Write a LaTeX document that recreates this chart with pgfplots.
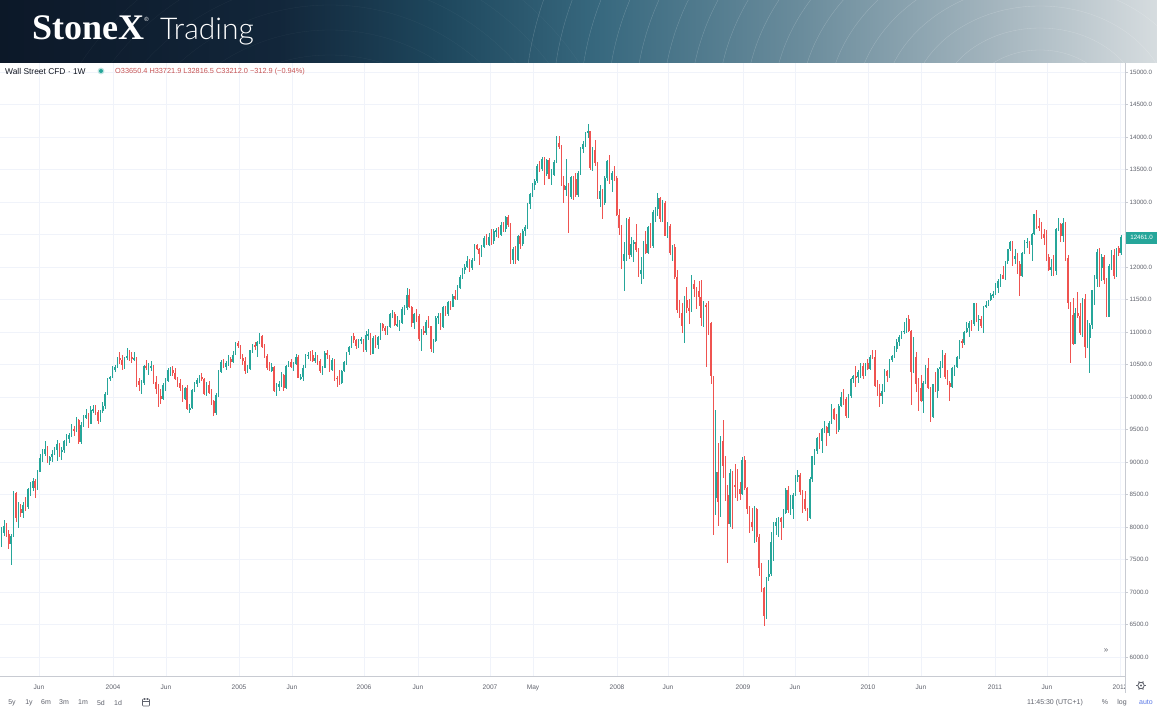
\documentclass[border=0pt]{standalone}
\usepackage{fontspec}
\setmainfont{Liberation Sans}
\newfontfamily\serifb{Liberation Serif}
\IfFontExistsTF{Lato Light}{\newfontfamily\latol{Lato Light}}{\newfontfamily\latol{Lato}}
\usepackage{pgfplots}
\usepackage{pgfplotstable}
\usetikzlibrary{calc}
\pgfplotsset{compat=1.18}
\definecolor{upc}{HTML}{26A69A}
\definecolor{dnc}{HTML}{EF5350}
\definecolor{gridc}{RGB}{240,243,250}
\definecolor{axc}{RGB}{200,203,210}
\definecolor{txc}{RGB}{95,98,108}
\definecolor{legr}{RGB}{200,85,85}
\definecolor{b0}{HTML}{0C1828}
\definecolor{b1}{HTML}{12263A}
\definecolor{b2}{HTML}{1E475D}
\definecolor{b3}{HTML}{38697F}
\definecolor{b4}{HTML}{6A8C9C}
\definecolor{b5}{HTML}{A4B5BE}
\definecolor{b6}{HTML}{D6DCDF}
\pgfdeclarehorizontalshading{banner}{100bp}{color(0bp)=(b0); color(25bp)=(b0); color(37bp)=(b1); color(44bp)=(b2); color(51bp)=(b3); color(59.6bp)=(b4); color(68bp)=(b5); color(75bp)=(b6); color(100bp)=(b6)}
\begin{document}
\pgfplotstableread{
o h l c
7850 7995 7700 7909
7909 8110 7860 8018
8018 8060 7840 7891
7891 7960 7660 7740
7740 7900 7416 7859
7859 8560 7850 8522
8522 8540 8080 8145
8145 8390 7990 8277
8277 8360 8150 8221
8221 8390 8140 8337
8337 8460 8250 8306
8306 8600 8270 8583
8583 8700 8480 8604
8604 8760 8560 8713
8713 8740 8450 8601
8601 8880 8570 8850
8850 9130 8840 9062
9062 9200 9000 9117
9117 9330 9090 9200
9200 9240 8980 9011
9011 9100 8960 9070
9070 9190 9000 9119
9119 9230 9110 9188
9188 9340 9010 9284
9284 9300 9080 9153
9153 9230 9030 9191
9191 9340 9140 9321
9321 9430 9250 9348
9348 9440 9300 9415
9415 9590 9380 9503
9503 9550 9400 9471
9471 9690 9460 9644
9644 9660 9280 9313
9313 9620 9270 9572
9572 9720 9540 9674
9674 9810 9660 9721
9721 9760 9530 9582
9582 9860 9580 9801
9801 9880 9760 9809
9809 9870 9730 9768
9768 9800 9580 9629
9629 9800 9620 9782
9782 9930 9750 9862
9862 10070 9820 10042
10042 10300 10030 10278
10278 10330 10250 10305
10305 10470 10290 10409
10409 10500 10380 10458
10458 10620 10440 10600
10600 10700 10510 10568
10568 10650 10420 10488
10488 10620 10430 10593
10593 10753 10570 10628
10628 10720 10560 10620
10620 10700 10530 10584
10584 10690 10550 10596
10596 10610 10160 10240
10240 10300 10100 10186
10186 10260 10048 10212
10212 10500 10190 10470
10470 10570 10420 10443
10443 10530 10340 10452
10452 10560 10400 10472
10472 10500 10200 10226
10226 10320 10050 10118
10118 10200 9852 10013
10013 10120 9900 9967
9967 10220 9960 10188
10188 10300 10100 10242
10242 10440 10230 10410
10410 10460 10330 10416
10416 10480 10330 10371
10371 10450 10260 10283
10283 10310 10160 10213
10213 10270 10100 10140
10140 10180 9930 9962
9962 10160 9950 10140
10140 10180 9800 9815
9815 9900 9760 9825
9825 10130 9810 10110
10110 10230 10080 10195
10195 10300 10160 10260
10260 10340 10220 10314
10314 10370 10240 10284
10284 10300 10030 10047
10047 10230 10020 10192
10192 10250 10040 10055
10055 10120 9880 9933
9933 9960 9708 9758
9758 10060 9730 10027
10027 10420 10000 10387
10387 10570 10370 10539
10539 10580 10440 10456
10456 10560 10420 10522
10522 10640 10480 10592
10592 10620 10440 10543
10543 10710 10530 10650
10650 10850 10640 10827
10827 10868 10760 10783
10783 10800 10580 10603
10603 10660 10500 10558
10558 10620 10360 10393
10393 10500 10370 10427
10427 10730 10410 10716
10716 10820 10680 10796
10796 10840 10720 10785
10785 10860 10610 10841
10841 10984 10820 10940
10940 10960 10760 10774
10774 10820 10600 10629
10629 10660 10420 10442
10442 10540 10400 10404
10404 10520 10380 10461
10461 10480 10070 10088
10088 10220 10010 10157
10157 10250 10100 10193
10193 10390 10150 10345
10345 10360 10100 10140
10140 10490 10130 10471
10471 10560 10460 10542
10542 10590 10440 10460
10460 10540 10400 10512
10512 10660 10500 10623
10623 10640 10290 10297
10297 10350 10260 10303
10303 10490 10240 10449
10449 10660 10440 10640
10640 10700 10580 10651
10651 10710 10560 10641
10641 10720 10540 10559
10559 10690 10530 10600
10600 10640 10500 10559
10559 10580 10370 10397
10397 10480 10340 10447
10447 10710 10440 10679
10679 10720 10590 10641
10641 10650 10380 10419
10419 10600 10400 10569
10569 10580 10250 10292
10292 10330 10156 10287
10287 10420 10190 10215
10215 10420 10200 10402
10402 10560 10380 10531
10531 10700 10500 10686
10686 10790 10640 10766
10766 10940 10750 10931
10931 10990 10830 10878
10878 10900 10740 10778
10778 10900 10760 10875
10875 10920 10810 10883
10883 10900 10700 10718
10718 11010 10700 10959
10959 11050 10880 10960
10960 10990 10650 10667
10667 10940 10660 10907
10907 10950 10750 10794
10794 10940 10740 10920
10920 11140 10880 11116
11116 11140 11020 11062
11062 11100 10960 11021
11021 11100 10950 11076
11076 11300 11060 11280
11280 11340 11220 11280
11280 11310 11090 11109
11109 11240 11080 11120
11120 11190 11010 11137
11137 11380 11120 11347
11347 11420 11260 11367
11367 11670 11340 11577
11577 11660 11370 11380
11380 11400 11080 11144
11144 11300 11050 11278
11278 11360 11160 11248
11248 11280 10860 10892
10892 11050 10706 11014
11014 11100 10950 10990
10990 11190 10960 11150
11150 11250 11060 11091
11091 11100 10700 10739
10739 10900 10683 10869
10869 11240 10850 11219
11219 11290 11120 11240
11240 11290 11030 11077
11077 11400 11060 11381
11381 11400 11240 11284
11284 11480 11250 11464
11464 11480 11340 11392
11392 11580 11380 11560
11560 11640 11500 11508
11508 11730 11500 11679
11679 11880 11660 11850
11850 11990 11820 11960
11960 12050 11900 12002
12002 12170 11980 12090
12090 12130 11930 11986
11986 12140 11960 12108
12108 12360 12090 12342
12342 12360 12260 12280
12280 12290 12030 12194
12194 12340 12150 12307
12307 12480 12290 12445
12445 12510 12340 12343
12343 12520 12330 12463
12463 12580 12340 12398
12398 12580 12350 12556
12556 12600 12460 12565
12565 12620 12440 12487
12487 12700 12480 12653
12653 12700 12540 12580
12580 12780 12540 12768
12768 12795 12620 12647
12647 12680 12050 12114
12114 12310 12040 12276
12276 12330 12050 12110
12110 12500 12100 12481
12481 12530 12280 12354
12354 12580 12320 12560
12560 12640 12480 12612
12612 12980 12590 12962
12962 13140 12900 13120
13120 13290 13080 13264
13264 13350 13190 13326
13326 13580 13300 13556
13556 13630 13460 13507
13507 13690 13480 13668
13668 13690 13260 13424
13424 13660 13400 13639
13639 13680 13350 13360
13360 13510 13260 13409
13409 13640 13400 13611
13611 14022 13600 13907
13907 14021 13820 13851
13851 13880 13240 13265
13265 13400 12980 13182
13182 13660 13100 13240
13240 13300 12518 13079
13079 13400 13050 13379
13379 13400 13030 13358
13358 13450 13080 13114
13114 13480 13070 13443
13443 13850 13420 13821
13821 13940 13750 13896
13896 14080 13850 14066
14066 14198 13980 14093
14093 14100 13500 13523
13523 13850 13470 13807
13807 13950 13550 13596
13596 13620 13040 13043
13043 13260 12930 13177
13177 13200 12743 12981
12981 13400 12950 13372
13372 13650 13320 13626
13626 13727 13280 13340
13340 13480 13150 13451
13451 13560 13320 13366
13366 13400 12780 12800
12800 12900 12500 12606
12606 12650 11970 12099
12099 12380 11635 12207
12207 12760 12100 12743
12743 12770 12120 12182
12182 12460 12150 12348
12348 12420 12070 12381
12381 12660 12230 12266
12266 12300 11850 11894
11894 12150 11731 11951
11951 12400 11820 12361
12361 12550 12200 12216
12216 12630 12200 12609
12609 12680 12300 12325
12325 12870 12300 12849
12849 12930 12700 12891
12891 13136 12780 13058
13058 13080 12700 12746
12746 13030 12700 12986
12986 13010 12470 12480
12480 12690 12440 12638
12638 12660 12180 12210
12210 12340 12100 12307
12307 12350 11820 11842
11842 11950 11300 11346
11346 11500 11210 11289
11289 11450 10990 11100
11100 11550 10827 11496
11496 11700 11300 11370
11370 11510 11130 11326
11326 11870 11310 11734
11734 11800 11540 11659
11659 11700 11360 11628
11628 11790 11400 11544
11544 11800 11100 11220
11220 11480 11080 11421
11421 11440 10460 11388
11388 11480 10950 11143
11143 11150 10200 10325
10325 10330 7882 8451
8451 9800 8190 8852
8852 9300 8020 8378
8378 9400 8150 9325
9325 9650 8750 8943
8943 9100 8400 8497
8497 8640 7449 8046
8046 8900 8000 8829
8829 8860 7970 8635
8635 8970 8450 8629
8629 8900 8400 8579
8579 8700 8410 8515
8515 9080 8500 9034
9034 9090 8570 8599
8599 8620 8200 8281
8281 8330 7910 8077
8077 8300 7940 8000
8000 8320 7750 8280
8280 8300 7770 7850
7850 7900 7250 7365
7365 7450 7000 7062
7062 7070 6470 6627
6627 7230 6580 7224
7224 7490 7170 7279
7279 7930 7250 7776
7776 8080 7470 8018
8018 8140 7870 8083
8083 8160 7850 8131
8131 8160 7800 8076
8076 8270 7980 8212
8212 8600 8200 8575
8575 8630 8220 8268
8268 8500 8180 8277
8277 8520 8120 8500
8500 8800 8470 8763
8763 8880 8700 8799
8799 8830 8490 8539
8539 8570 8220 8438
8438 8560 8240 8280
8280 8300 8087 8146
8146 8770 8130 8743
8743 9100 8700 9093
9093 9200 8960 9171
9171 9380 9120 9370
9370 9440 9200 9321
9321 9520 9140 9505
9505 9630 9450 9544
9544 9560 9250 9441
9441 9630 9400 9605
9605 9900 9590 9820
9820 9830 9640 9665
9665 9740 9430 9487
9487 9890 9460 9865
9865 10070 9850 9995
9995 10120 9880 9972
9972 10000 9680 9713
9713 10050 9680 10023
10023 10300 9980 10270
10270 10340 10210 10318
10318 10470 10150 10309
10309 10420 10210 10388
10388 10520 10300 10471
10471 10520 10280 10329
10329 10530 10320 10520
10520 10580 10410 10428
10428 10640 10410 10618
10618 10730 10580 10610
10610 10730 10160 10172
10172 10260 10020 10067
10067 10200 9840 10012
10012 10200 9900 10099
10099 10430 10080 10402
10402 10420 10230 10325
10325 10580 10300 10566
10566 10650 10540 10625
10625 10790 10600 10742
10742 10900 10700 10850
10850 10950 10790 10927
10927 11010 10900 10997
10997 11150 10970 11019
11019 11210 10980 11204
11204 11258 11000 11009
11009 11030 9870 10380
10380 10920 10370 10620
10620 10700 10070 10193
10193 10300 9780 10137
10137 10340 9920 9932
9932 10250 9760 10212
10212 10490 10200 10450
10450 10600 10130 10144
10144 10150 9614 9686
9686 10200 9680 10198
10198 10380 10080 10097
10097 10440 9990 10424
10424 10560 10300 10466
10466 10720 10450 10653
10653 10680 10280 10303
10303 10420 10190 10213
10213 10250 9940 10150
10150 10460 10140 10448
10448 10500 10330 10462
10462 10630 10440 10608
10608 10880 10590 10860
10860 10900 10750 10829
10829 11010 10800 11006
11006 11150 10980 11062
11062 11170 10930 11133
11133 11180 11010 11118
11118 11450 11100 11444
11444 11450 11150 11192
11192 11260 11020 11203
11203 11240 11060 11092
11092 11400 10980 11382
11382 11480 11370 11410
11410 11500 11400 11491
11491 11600 11480 11573
11573 11630 11520 11578
11578 11750 11570 11675
11675 11810 11600 11787
11787 11900 11690 11871
11871 12020 11820 11823
11823 12100 11800 12092
12092 12280 12050 12273
12273 12400 12240 12391
12391 12400 12010 12130
12130 12280 12050 12169
12169 12220 11900 12044
12044 12100 11555 11859
11859 12230 11850 12221
12221 12420 12200 12376
12376 12450 12290 12380
12380 12400 12200 12342
12342 12520 12090 12506
12506 12820 12490 12811
12811 12876 12580 12638
12638 12760 12550 12596
12596 12700 12430 12512
12512 12580 12340 12441
12441 12570 12100 12151
12151 12200 11940 11952
11952 12130 11860 12004
12004 12190 11860 11934
11934 12600 11870 12582
12582 12750 12560 12657
12657 12680 12380 12480
12480 12750 12390 12681
12681 12700 12090 12143
12143 12190 11350 11445
11445 11460 10520 11269
11269 11530 10800 10818
10818 11370 10820 11285
11285 11620 11210 11240
11240 11450 10950 10992
10992 11520 10930 11509
11509 11580 10600 10771
10771 11190 10750 10913
10913 11140 10362 11103
11103 11650 11050 11644
11644 11870 11410 11809
11809 12280 11700 12231
12231 12290 11700 11983
11983 12200 11780 12153
12153 12190 11740 11796
11796 11830 11230 11231
11231 12050 11230 12019
12019 12260 11950 12184
12184 12270 11820 11867
11867 12300 11840 12294
12294 12330 12170 12217
12217 12500 12190 12461
}\candles
\begin{tikzpicture}[x=1bp,y=1bp]
\path[use as bounding box] (0,0) rectangle (1157,-720);
\fill[white] (0,0) rectangle (1157,-720);
% banner
\shade[shading=banner] (0,0) rectangle (1157,-62.5);
\begin{scope}
\clip (0,0) rectangle (1157,-62.5);
\foreach \r in {60,82,...,420} \draw[white, opacity=0.22, line width=0.35bp] (1040,-110) ellipse [x radius={1.25*\r}, y radius=\r];
\foreach \r in {150,175,...,300} \draw[white, opacity=0.05, line width=0.35bp] (330,-230) circle (\r);
\end{scope}
\node[anchor=base west, inner sep=0, text=white] at (32,-40) {\serifb\bfseries\fontsize{36bp}{36bp}\selectfont StoneX};
\node[inner sep=0, text=white] at (146.5,-19) {\fontsize{6bp}{6bp}\selectfont ®};
\node[anchor=base west, inner sep=0, text=white] at (160,-39.5) {\latol\fontsize{30bp}{30bp}\selectfont Trading};
% chart
\begin{axis}[
  at={(0bp,-676bp)}, anchor=south west,
  scale only axis, width=1125bp, height=613bp,
  xmin=-0.62, xmax=465.6, ymin=5707.7, ymax=15138.5,
  axis x line*=bottom, axis y line*=right,
  axis line style={axc, line width=0.8bp},
  xtick={15.54,46.21,68.17,98.43,120.39,150.23,172.61,202.45,220.27,255.08,276.22,307.29,328.84,359.09,381.06,411.72,433.27,463.53},
  xticklabels={Jun,2004,Jun,2005,Jun,2006,Jun,2007,May,2008,Jun,2009,Jun,2010,Jun,2011,Jun,2012},
  ytick={6000,6500,7000,7500,8000,8500,9000,9500,10000,10500,11000,11500,12000,13000,13500,14000,14500,15000},
  extra y ticks={12500}, extra y tick labels={},
  extra y tick style={grid=major, tick style={axc, line width=0.6bp}},
  scaled y ticks=false,
  grid=major, grid style={gridc, line width=0.8bp},
  tick align=outside, major tick length=3bp,
  xtick style={draw=none},
  ytick style={axc, line width=0.6bp},
  xticklabel style={font=\fontsize{6.6bp}{7bp}\selectfont, text=txc, inner sep=0pt, anchor=center, yshift=-8.5bp},
  yticklabel style={font=\fontsize{6.2bp}{7bp}\selectfont, text=txc, inner sep=0pt, anchor=west, xshift=1.5bp,
    /pgf/number format/fixed, /pgf/number format/fixed zerofill, /pgf/number format/precision=1,
    /pgf/number format/1000 sep={}, /pgf/number format/assume math mode=true},
]
\addplot[draw=none, mark=none, forget plot, restrict expr to domain={\thisrow{c}-\thisrow{o}}{0:100000},
  error bars/.cd, y dir=both, y explicit, error mark=none, error bar style={draw=upc, line width=0.7bp}]
  table[x expr=\coordindex, y expr={(\thisrow{h}+\thisrow{l})/2}, y error expr={(\thisrow{h}-\thisrow{l})/2}] {\candles};
\addplot[draw=none, mark=none, forget plot, restrict expr to domain={\thisrow{c}-\thisrow{o}}{-100000:-0.5},
  error bars/.cd, y dir=both, y explicit, error mark=none, error bar style={draw=dnc, line width=0.7bp}]
  table[x expr=\coordindex, y expr={(\thisrow{h}+\thisrow{l})/2}, y error expr={(\thisrow{h}-\thisrow{l})/2}] {\candles};
\addplot[draw=none, mark=none, forget plot, restrict expr to domain={\thisrow{c}-\thisrow{o}}{0:100000},
  error bars/.cd, y dir=both, y explicit, error mark=none, error bar style={draw=upc, line width=1.6bp}]
  table[x expr=\coordindex, y expr={(\thisrow{o}+\thisrow{c})/2}, y error expr={max(abs(\thisrow{c}-\thisrow{o})/2,7)}] {\candles};
\addplot[draw=none, mark=none, forget plot, restrict expr to domain={\thisrow{c}-\thisrow{o}}{-100000:-0.5},
  error bars/.cd, y dir=both, y explicit, error mark=none, error bar style={draw=dnc, line width=1.6bp}]
  table[x expr=\coordindex, y expr={(\thisrow{o}+\thisrow{c})/2}, y error expr={max(abs(\thisrow{c}-\thisrow{o})/2,7)}] {\candles};
\end{axis}
% legend line
\node[anchor=west, inner sep=0, text={rgb,255:red,19;green,23;blue,34}] at (5,-71.5) {\fontsize{8.4bp}{9bp}\selectfont Wall Street CFD · 1W};
\fill[upc!30] (101,-71) circle (3.4);
\fill[upc] (101,-71) circle (2);
\node[anchor=west, inner sep=0, text=legr] at (115,-71.5) {\fontsize{7.35bp}{9bp}\selectfont O33650.4 H33721.9 L32816.5 C33212.0 −312.9 (−0.94\%)};
% last price label
\fill[upc] (1126,-231.5) rectangle (1157,-243.5);
\node[inner sep=0, text=white] at (1141.5,-237.5) {\fontsize{6.2bp}{7bp}\selectfont 12461.0};
% right-bottom corner
\fill[white] (1125.6,-677) rectangle (1157,-694);
\draw[axc, line width=0.8bp] (1125,-676) -- (1125,-693);
\draw[txc, line width=0.8bp] (1141,-685.5) circle (3.2);
\fill[txc] (1141,-685.5) circle (1.1);
\foreach \a in {0,60,...,300} \draw[txc, line width=1.1bp] ($(1141,-685.5)+(\a:3)$) -- ($(1141,-685.5)+(\a:4.6)$);
\node[inner sep=0, text=txc] at (1106,-651) {\fontsize{8bp}{8bp}\selectfont »};
% bottom toolbar
\begin{scope}[every node/.style={inner sep=0, text=txc, font=\fontsize{7bp}{8bp}\selectfont}]
\node at (12,-702.5) {5y};
\node at (29,-702.5) {1y};
\node at (46,-702.5) {6m};
\node at (64,-702.5) {3m};
\node at (83,-702.5) {1m};
\node at (101,-702.5) {5d};
\node at (118,-702.5) {1d};
\node at (1055,-702.5) {11:45:30 (UTC+1)};
\node at (1105,-702.5) {\%};
\node at (1122,-702.5) {log};
\node[text={rgb,255:red,90;green,120;blue,230}] at (1146,-702.5) {auto};
\end{scope}
\draw[txc, line width=0.6bp, rounded corners=0.8bp] (142.5,-699) rectangle (149.5,-706);
\draw[txc, line width=0.6bp] (142.5,-701) -- (149.5,-701);
\draw[txc, line width=0.6bp] (144.5,-698) -- (144.5,-700) (147.5,-698) -- (147.5,-700);
\end{tikzpicture}
\end{document}
